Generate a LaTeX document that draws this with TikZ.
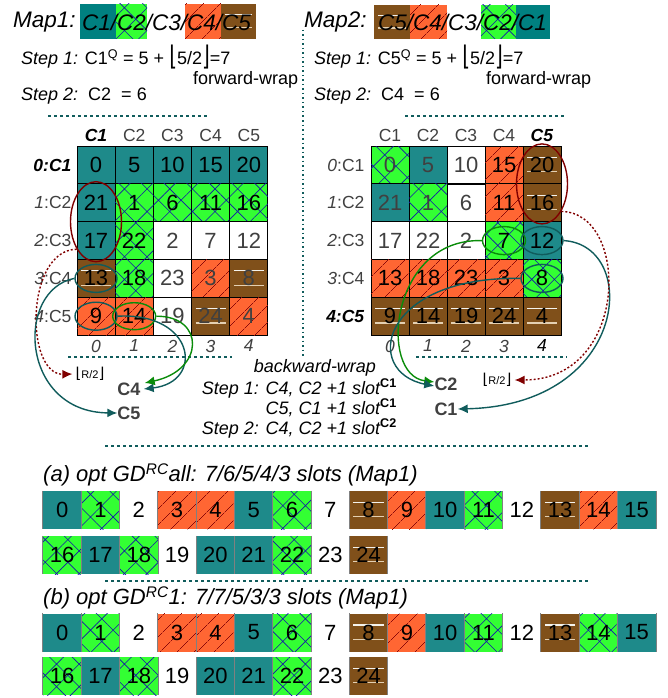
\documentclass[tikz,border=0pt]{standalone}
\usepackage{fontspec}
\setmainfont{Liberation Sans}
\newfontfamily\dejavu{DejaVu Sans}
\usetikzlibrary{positioning,calc,shapes.geometric,arrows.meta,patterns.meta}

\definecolor{cteal}{RGB}{30,138,138}
\definecolor{cdteal}{RGB}{0,128,128}
\definecolor{clime}{RGB}{51,255,51}
\definecolor{corange}{RGB}{255,102,51}
\definecolor{cbrown}{RGB}{128,80,26}
\definecolor{chatch}{RGB}{20,20,170}
\definecolor{cline}{RGB}{140,10,10}
\definecolor{cring}{RGB}{128,0,0}
\definecolor{cpath}{RGB}{16,92,92}
\definecolor{cgreen}{RGB}{10,140,10}
\definecolor{numk}{RGB}{0,0,0}
\definecolor{numg}{RGB}{64,64,64}
\definecolor{cstripe}{RGB}{244,242,236}
\definecolor{cstripeb}{RGB}{228,208,178}

\newcommand\floorof[1]{{\dejavu\fontsize{20}{20}\selectfont\raisebox{-1pt}{\scalebox{1}[1.35]{⌊}}}#1{\dejavu\fontsize{20}{20}\selectfont\raisebox{-1pt}{\scalebox{1}[1.35]{⌋}}}}
\newcommand\floorhalf{{\dejavu\fontsize{15}{15}\selectfont ⌊}{\fontsize{11}{11}\selectfont R/2}{\dejavu\fontsize{15}{15}\selectfont ⌋}}
\newcommand\slotsup[1]{\textsuperscript{\textbf{\textup{#1}}}}

\begin{document}
\begin{tikzpicture}[x=1pt,y=-1pt,
    num/.style={font=\fontsize{22}{22}\selectfont},
    cell/.style={num,draw=black,line width=0.8pt,minimum size=38pt,inner sep=0pt},
    slot/.style={num,minimum width=38.3pt,minimum height=38pt,inner sep=0pt},
    tealfill/.style={fill=cteal},
    limefill/.style={fill=clime,postaction={pattern={Hatch[angle=45,distance=16pt,line width=0.6pt]},pattern color=chatch}},
    orangefill/.style={fill=corange,postaction={pattern={Lines[angle=45,distance=13pt,line width=0.5pt]},pattern color=cline}},
    brownfill/.style={fill=cbrown,path picture={
        \draw[cstripe,line width=1.3pt,shorten <=4pt,shorten >=4pt]
          ($(path picture bounding box.north west)!.3!(path picture bounding box.south west)$) --
          ($(path picture bounding box.north east)!.3!(path picture bounding box.south east)$);
        \draw[cstripeb,line width=1.3pt,shorten <=4pt,shorten >=4pt]
          ($(path picture bounding box.north west)!.68!(path picture bounding box.south west)$) --
          ($(path picture bounding box.north east)!.68!(path picture bounding box.south east)$);}},
    slotedge/.style={draw=gray,line width=1pt},
    edged/.style={append after command={(\tikzlastnode.north west) edge[slotedge] (\tikzlastnode.south west)
        (\tikzlastnode.north east) edge[slotedge] (\tikzlastnode.south east)}},
    tealcell/.style={cell,tealfill}, limecell/.style={cell,limefill},
    orangecell/.style={cell,orangefill}, browncell/.style={cell,brownfill}, blankcell/.style={cell},
    tealslot/.style={slot,tealfill,edged}, limeslot/.style={slot,limefill,edged},
    orangeslot/.style={slot,orangefill,edged}, brownslot/.style={slot,brownfill,edged}, blankslot/.style={slot},
    head/.style={font=\fontsize{17.5}{17.5}\selectfont,text=numg,inner sep=0pt},
    maptext/.style={font=\fontsize{22.5}{22.5}\selectfont\itshape,inner sep=0pt,anchor=west},
    steptext/.style={font=\fontsize{18}{18}\selectfont,inner sep=0pt,anchor=west},
    caption/.style={font=\fontsize{22}{22}\selectfont\itshape,inner sep=0pt,anchor=west},
    tag/.style={font=\fontsize{18}{18}\selectfont\bfseries,text=numg,inner sep=0pt},
    ring/.style={ellipse,draw,line width=1.4pt,inner sep=0pt},
    link/.style={line width=1.4pt,-{Latex[length=10pt,width=9pt]}},
    sep/.style={cpath,line width=1.5pt,dash pattern=on 3pt off 3pt}]

  \useasboundingbox (0,0) rectangle (668,698);

  % map headers
  \node[tealfill,fill=cdteal,minimum width=36pt,minimum height=35pt,inner sep=0pt] (m1a) at (98,21.5) {};
  \node[limefill,minimum width=31pt,minimum height=35pt,inner sep=0pt] (m1b) at (131.5,21.5) {};
  \node[orangefill,minimum width=36pt,minimum height=35pt,inner sep=0pt] (m1d) at (203,21.5) {};
  \node[brownfill,minimum width=35pt,minimum height=35pt,inner sep=0pt] (m1e) at (238.5,21.5) {};
  \node[maptext] (map1) at (13,22) {Map1:};
  \node[maptext] (seq1) at (82,22) {C1/C2/C3/C4/C5};

  \node[brownfill,minimum width=36pt,minimum height=34pt,inner sep=0pt] (m2e) at (392,22) {};
  \node[orangefill,minimum width=37pt,minimum height=34pt,inner sep=0pt] (m2d) at (428.5,22) {};
  \node[limefill,minimum width=35pt,minimum height=34pt,inner sep=0pt] (m2b) at (498.5,22) {};
  \node[tealfill,fill=cdteal,minimum width=34pt,minimum height=34pt,inner sep=0pt] (m2a) at (533,22) {};
  \node[maptext] (map2) at (304,22) {Map2:};
  \node[maptext] (seq2) at (378,22) {C5/C4/C3/C2/C1};

  \node[steptext] (st1L) at (21,57) {\textit{Step 1:} C1\textsuperscript{Q} = 5 + \floorof{5/2}=7};
  \node[steptext] (fwL) at (193,80) {forward-wrap};
  \node[steptext] (st2L) at (21,96) {\textit{Step 2:}\ \ C2\ \ = 6};
  \node[steptext] (st1R) at (314,57) {\textit{Step 1:} C5\textsuperscript{Q} = 5 + \floorof{5/2}=7};
  \node[steptext] (fwR) at (486,80) {forward-wrap};
  \node[steptext] (st2R) at (314,96) {\textit{Step 2:}\ \ C4\ \ = 6};

  \draw[sep] (48,116) -- (207,116);
  \draw[sep] (405,116) -- (565,116);
  \draw[sep,dash pattern=on 1.5pt off 3pt] (303,30) -- (303,358);

  % Map1 grid
  \foreach \val/\sty/\tc [count=\k from 0] in {0/tealcell/k,5/tealcell/k,10/tealcell/k,15/tealcell/k,20/tealcell/k,
      21/tealcell/k,1/limecell/k,6/limecell/k,11/limecell/k,16/limecell/k,
      17/tealcell/k,22/limecell/k,2/blankcell/g,7/blankcell/g,12/blankcell/g,
      13/browncell/k,18/limecell/k,23/blankcell/g,3/orangecell/g,8/browncell/g,
      9/orangecell/k,14/orangecell/k,19/blankcell/g,24/browncell/g,4/orangecell/g}{
    \pgfmathtruncatemacro\row{div(\k,5)}
    \pgfmathtruncatemacro\col{mod(\k,5)}
    \node[\sty,text=num\tc] (L\row\col) at (96+38.2*\col,165+37.8*\row) {\val};
  }
  % Map2 grid
  \foreach \val/\sty/\tc [count=\k from 0] in {0/limecell/g,5/tealcell/g,10/blankcell/g,15/orangecell/k,20/browncell/k,
      21/tealcell/g,1/limecell/g,6/blankcell/g,11/orangecell/k,16/browncell/k,
      17/blankcell/g,22/blankcell/g,2/blankcell/g,7/limecell/k,12/tealcell/k,
      13/orangecell/k,18/orangecell/k,23/orangecell/k,3/orangecell/k,8/limecell/k,
      9/browncell/k,14/browncell/k,19/browncell/k,24/browncell/k,4/browncell/k}{
    \pgfmathtruncatemacro\row{div(\k,5)}
    \pgfmathtruncatemacro\col{mod(\k,5)}
    \node[\sty,text=num\tc] (R\row\col) at (390+38*\col,165+37.8*\row) {\val};
  }

  \node[head,text=black,above=4pt of L00] {\textbf{\textit{C1}}};
  \node[head,above=4pt of L01] {C2};
  \node[head,above=4pt of L02] {C3};
  \node[head,above=4pt of L03] {C4};
  \node[head,above=4pt of L04] {C5};
  \node[head,text=black,left=5pt of L00] {\textbf{\textit{0:C1}}};
  \node[head,left=5pt of L10] {\textit{1}:C2};
  \node[head,left=5pt of L20] {\textit{2}:C3};
  \node[head,left=5pt of L30] {\textit{3}:C4};
  \node[head,left=5pt of L40] {\textit{4}:C5};
  \foreach \col in {0,...,4}
    \node[head,below=4pt of L4\col] {\textit{\col}};

  \node[head,above=4pt of R00] {C1};
  \node[head,above=4pt of R01] {C2};
  \node[head,above=4pt of R02] {C3};
  \node[head,above=4pt of R03] {C4};
  \node[head,text=black,above=4pt of R04] {\textbf{\textit{C5}}};
  \node[head,left=6pt of R00] {\textit{0}:C1};
  \node[head,left=6pt of R10] {\textit{1}:C2};
  \node[head,left=6pt of R20] {\textit{2}:C3};
  \node[head,left=6pt of R30] {\textit{3}:C4};
  \node[head,text=black,left=6pt of R40] {\textbf{\textit{4:C5}}};
  \foreach \col in {0,...,3}
    \node[head,below=4pt of R4\col] {\textit{\col}};
  \node[head,text=black,below=4pt of R44] {\textit{4}};

  \draw[sep] (68,357) -- (232,357);
  \draw[sep] (416,357) -- (567,357);

  % rings
  \node[ring,draw=cring,minimum width=51pt,minimum height=80pt] (wrapL) at ($(L10)!.5!(L20)$) {};
  \node[ring,draw=cpath,minimum width=42pt,minimum height=28pt] (e13) at (L30) {};
  \node[ring,draw=cpath,minimum width=42pt,minimum height=28pt] (e9) at (L40) {};
  \node[ring,draw=cgreen,minimum width=43pt,minimum height=27pt] (e14) at (L41) {};
  \node[ring,draw=cring,minimum width=51pt,minimum height=80pt] (wrapR) at ($(R04)!.5!(R14)$) {};
  \node[ring,draw=cgreen,minimum width=43pt,minimum height=28pt] (e7) at (R23) {};
  \node[ring,draw=cpath,minimum width=42pt,minimum height=28pt] (e12) at (R24) {};
  \node[ring,draw=cpath,minimum width=42pt,minimum height=28pt] (e8) at (R34) {};

  \node[tag] (toC4) at (129,389) {C4};
  \node[tag] (toC5) at (129,413) {C5};
  \node[tag] (toC2) at (446,384) {C2};
  \node[tag] (toC1) at (446,409) {C1};
  \node[inner sep=0pt] (halfL) at (90,374) {\floorhalf};
  \node[inner sep=0pt] (halfR) at (497,380) {\floorhalf};

  \draw[link,cring,dash pattern=on 2pt off 2pt,shorten >=3pt] (wrapL.235) .. controls (25,250) and (25,375) .. (halfL.west);
  \draw[link,cpath] (e13.west) .. controls (15,290) and (20,412) .. (toC5.west);
  \draw[link,cpath] (e9.east) .. controls (195,312) and (205,382) .. ([xshift=3pt]toC4.east);
  \draw[link,cgreen] (e14.east) .. controls (205,316) and (205,370) .. ([shift={(4pt,6pt)}]toC4.east);
  \draw[link,cgreen] (e7.west) .. controls (390,238) and (378,375) .. ([yshift=2pt]toC2.west);
  \draw[link,cpath] (e8.west) .. controls (380,276) and (362,372) .. ([yshift=-2pt]toC2.west);
  \draw[link,cpath] (e12.east) .. controls (640,245) and (630,405) .. (toC1.east);
  \draw[link,cring,dash pattern=on 2pt off 2pt,shorten >=3pt] (wrapR.-55) .. controls (630,212) and (630,380) .. (halfR.east);

  \node[steptext,anchor=center] (bw) at (315,368) {\textit{backward-wrap}};
  \node[steptext,anchor=base east] (bw1) at (397,394) {\textit{Step 1: C4, C2 +1 slot\slotsup{C1}}};
  \node[steptext,anchor=base east] (bw2) at (397,414) {\textit{C5, C1 +1 slot\slotsup{C1}}};
  \node[steptext,anchor=base east] (bw3) at (397,434) {\textit{Step 2: C4, C2 +1 slot\slotsup{C2}}};

  \draw[sep] (105,446) -- (590,446);
  \draw[sep] (105,581) -- (590,581);

  % slot rows
  \node[caption] (capA) at (43,475) {(a) opt GD\textsuperscript{RC}all: 7/6/5/4/3 slots (Map1)};
  \foreach \val/\sty [count=\k from 0] in {0/tealslot,1/limeslot,2/blankslot,3/orangeslot,4/orangeslot,5/tealslot,
      6/limeslot,7/blankslot,8/brownslot,9/orangeslot,10/tealslot,11/limeslot,12/blankslot,13/brownslot,14/orangeslot,15/tealslot}
    \node[\sty] (A\val) at (62.2+38.3*\k,510) {\val};
  \foreach \val/\sty [count=\k from 0] in {16/limeslot,17/tealslot,18/limeslot,19/blankslot,20/tealslot,
      21/tealslot,22/limeslot,23/blankslot,24/brownslot}
    \node[\sty] (A\val) at (62.2+38.3*\k,555) {\val};

  \node[caption] (capB) at (43,598) {(b) opt GD\textsuperscript{RC}1: 7/7/5/3/3 slots (Map1)};
  \foreach \val/\sty [count=\k from 0] in {0/tealslot,1/limeslot,2/blankslot,3/orangeslot,4/orangeslot,5/tealslot,
      6/limeslot,7/blankslot,8/brownslot,9/orangeslot,10/tealslot,11/limeslot,12/blankslot,13/brownslot,14/limeslot,15/tealslot}
    \node[\sty] (B\val) at (62.2+38.3*\k,632.5) {\val};
  \foreach \val/\sty [count=\k from 0] in {16/limeslot,17/tealslot,18/limeslot,19/blankslot,20/tealslot,
      21/tealslot,22/limeslot,23/blankslot,24/brownslot}
    \node[\sty] (B\val) at (62.2+38.3*\k,676) {\val};
\end{tikzpicture}
\end{document}
